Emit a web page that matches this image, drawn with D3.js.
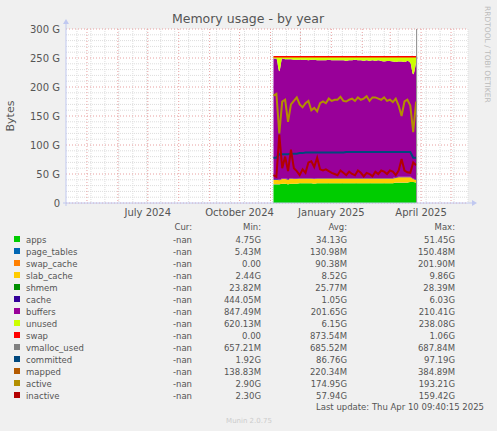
<!DOCTYPE html>
<html><head><meta charset="utf-8">
<script src="https://cdn.jsdelivr.net/npm/d3@7"></script>
<style>body{margin:0;background:#f0f0f0}svg{display:block}text{font-family:"DejaVu Sans",sans-serif}</style>
</head><body><svg id="c" width="497" height="431"></svg>
<script>
const names=["apps","page_tables","swap_cache","slab_cache","shmem","cache","buffers","unused","swap","vmalloc_used","committed","mapped","active","inactive"];
const colors=["#00cc00","#0066b3","#ff8000","#ffcc00","#008f00","#330099","#990099","#ccff00","#ff0000","#808080","#00487d","#b35a00","#b38f00","#b30000"];
const curV=names.map(()=>"-nan");
const minV=["4.75G","5.43M","0.00","2.44G","23.82M","444.05M","847.49M","620.13M","0.00","657.21M","1.92G","138.83M","2.90G","2.30G"];
const avgV=["34.13G","130.98M","90.38M","8.52G","25.77M","1.05G","201.65G","6.15G","873.54M","685.52M","86.76G","220.34M","174.95G","57.94G"];
const maxV=["51.45G","150.48M","201.90M","9.86G","28.39M","6.03G","210.41G","238.08G","1.06G","687.84M","97.19G","384.89M","193.21G","159.42G"];
const yTicks=[0,50,100,150,200,250,300];
const xTickLabels=["July 2024","October 2024","January 2025","April 2025"];
const xTickDates=["2024-07-01","2024-10-01","2025-01-01","2025-04-01"];
// sampled series (GB), from 2024-11-05 to 2025-03-27
const apps=[32,32,32,33,33,32,33,33,33,34,34,34,34,34,33,34,34,34,34,34,34,34,34,34,34,34,34,34,34,34,34,34,34,34,34,34,34,34,34,34,34,34,35,35,35,35,35,36,36,35];
const slab=[8,8,7,8,8,8,9,8,8,8,8,8,8,8,8,8,8,8,8,8,8,8,8,8,8,8,8,8,8,8,8,8,8,8,8,8,8,8,8,8,8,8,8,9,9,9,9,8,5,5];
const unused=[3,3,25,3,4,4,4,5,5,5,5,5,6,5,5,6,6,6,6,5,6,6,6,6,6,7,6,6,5,6,6,7,6,7,6,7,6,7,8,7,7,8,9,8,8,9,7,10,30,8];
const active=[185,188,120,175,178,140,170,176,182,170,165,172,176,160,164,158,172,175,172,180,176,178,178,183,176,175,178,180,176,182,178,180,184,176,182,182,180,178,182,176,178,174,180,168,150,175,178,168,122,175];
const inactive=[48,45,118,60,80,55,92,60,55,48,58,52,70,72,62,78,58,56,58,55,52,50,48,56,52,48,54,50,48,56,52,46,52,50,46,54,50,56,54,50,56,54,48,56,76,56,53,52,70,65];
const committed=[78,78,84,84,84,84,85,85,85,86,86,87,87,87,87,87,87,87,87,87,87,87,87,87,87,88,88,88,88,88,88,88,88,88,88,88,88,88,88,88,88,88,88,88,88,88,88,88,78,78];
const total=252;

const svg=d3.select("#c");
const L=66,R=468,T=29,B=203;
const x=d3.scaleTime().domain([new Date("2024-04-10"),new Date("2025-05-18")]).range([L,R]);
const y=d3.scaleLinear().domain([0,300]).range([B,T]);
const t0=new Date("2024-11-04"),t1=new Date("2025-03-27");
const n=apps.length;
const dates=d3.range(n).map(i=>new Date(+t0+(t1-t0)*i/(n-1)));
svg.append("rect").attr("x",L).attr("y",T).attr("width",R-L).attr("height",B-T).attr("fill","#fff");
const g=svg.append("g");
d3.range(0,301,10).forEach(v=>{if(v%50)g.append("line").attr("x1",L).attr("x2",R).attr("y1",y(v)).attr("y2",y(v)).attr("stroke","#ddd").attr("stroke-dasharray","1,1");});
x.ticks(d3.timeWeek.every(2)).forEach(d=>g.append("line").attr("x1",x(d)).attr("x2",x(d)).attr("y1",T).attr("y2",B).attr("stroke","#ddd").attr("stroke-dasharray","1,1"));
yTicks.forEach(v=>g.append("line").attr("x1",L).attr("x2",R).attr("y1",y(v)).attr("y2",y(v)).attr("stroke","#e8a0a0").attr("stroke-dasharray","1,2"));
x.ticks(d3.timeMonth.every(1)).forEach(d=>g.append("line").attr("x1",x(d)).attr("x2",x(d)).attr("y1",T).attr("y2",B).attr("stroke","#e8a0a0").attr("stroke-dasharray","1,2"));
const pageT=0.13,swapC=0.09,shmem=0.03,cache=1;
const rows=dates.map((d,i)=>{const base=apps[i]+pageT+swapC+slab[i]+shmem+cache;const buf=total-base-unused[i];
 return {d,apps:apps[i],page_tables:pageT,swap_cache:swapC,slab_cache:slab[i],shmem,cache,buffers:buf,unused:unused[i],swap:0};});
const keys=names.slice(0,9);
const st=d3.stack().keys(keys)(rows);
const area=d3.area().curve(d3.curveMonotoneX).x(d=>x(d.data.d)).y0(d=>y(d[0])).y1(d=>y(d[1]));
svg.append("g").selectAll("path").data(st).join("path").attr("d",area).attr("fill",(d,i)=>colors[i]);
svg.append("path").datum(st[8]).attr("fill","none").attr("stroke","#ff0000").attr("stroke-width",1.5)
 .attr("d",d3.line().x(d=>x(d.data.d)).y(d=>y(d[1])));
const line=d3.line().x((d,i)=>x(dates[i])).y(d=>y(d));
[[committed,10],[active,12],[inactive,13]].forEach(([s,c])=>svg.append("path").datum(s).attr("fill","none").attr("stroke",colors[c]).attr("stroke-width",2).attr("d",line));
svg.append("line").attr("x1",x(t1)+0.5).attr("x2",x(t1)+0.5).attr("y1",T).attr("y2",B).attr("stroke","#888");
svg.append("line").attr("x1",L-3).attr("x2",R+4).attr("y1",B).attr("y2",B).attr("stroke","#c0c8f0");
svg.append("line").attr("x1",L).attr("x2",L).attr("y1",B+3).attr("y2",T-6).attr("stroke","#c0c8f0");
svg.append("path").attr("d",`M${R+4},${B-3}L${R+9},${B}L${R+4},${B+3}Z`).attr("fill","#c0c8f0");
svg.append("path").attr("d",`M${L-3},${T-5}L${L},${T-10}L${L+3},${T-5}Z`).attr("fill","#c0c8f0");
yTicks.forEach(v=>svg.append("text").attr("x",L-6).attr("y",y(v)+3.5).attr("text-anchor","end").attr("font-size",10).attr("fill","#555").text(v?v+" G":"0"));
xTickLabels.forEach((l,i)=>svg.append("text").attr("x",x(new Date(xTickDates[i]))).attr("y",216).attr("text-anchor","middle").attr("font-size",10).attr("fill","#555").text(l));
svg.append("text").attr("x",248).attr("y",23).attr("text-anchor","middle").attr("font-size",12.5).attr("fill","#555").text("Memory usage - by year");
svg.append("text").attr("transform","translate(14,116) rotate(-90)").attr("text-anchor","middle").attr("font-size",11).attr("fill","#555").text("Bytes");
svg.append("text").attr("transform","translate(485,6) rotate(90)").attr("font-size",7.5).attr("fill","#bbb").text("RRDTOOL / TOBI OETIKER");
const mono='"DejaVu Sans Mono",monospace';
const hx=[192,261,347,455],hd=["Cur:","Min:","Avg:","Max:"];
hd.forEach((h,i)=>svg.append("text").attr("x",hx[i]).attr("y",230).attr("text-anchor","end").attr("font-family",mono).attr("font-size",8.5).attr("fill","#555").text(h));
names.forEach((nm,i)=>{const yy=243+i*12;
 svg.append("rect").attr("x",14).attr("y",yy-7).attr("width",6).attr("height",6).attr("fill",colors[i]);
 svg.append("text").attr("x",26).attr("y",yy).attr("font-family",mono).attr("font-size",8.5).attr("fill","#555").text(nm);
 [curV,minV,avgV,maxV].forEach((a,j)=>svg.append("text").attr("x",hx[j]).attr("y",yy).attr("text-anchor","end").attr("font-family",mono).attr("font-size",8.5).attr("fill","#555").text(a[i]));});
svg.append("text").attr("x",484).attr("y",410).attr("text-anchor","end").attr("font-family",mono).attr("font-size",8.5).attr("fill","#555").text("Last update: Thu Apr 10 09:40:15 2025");
svg.append("text").attr("x",249).attr("y",423).attr("text-anchor","middle").attr("font-size",7).attr("fill","#ccc").text("Munin 2.0.75");
</script></body></html>
